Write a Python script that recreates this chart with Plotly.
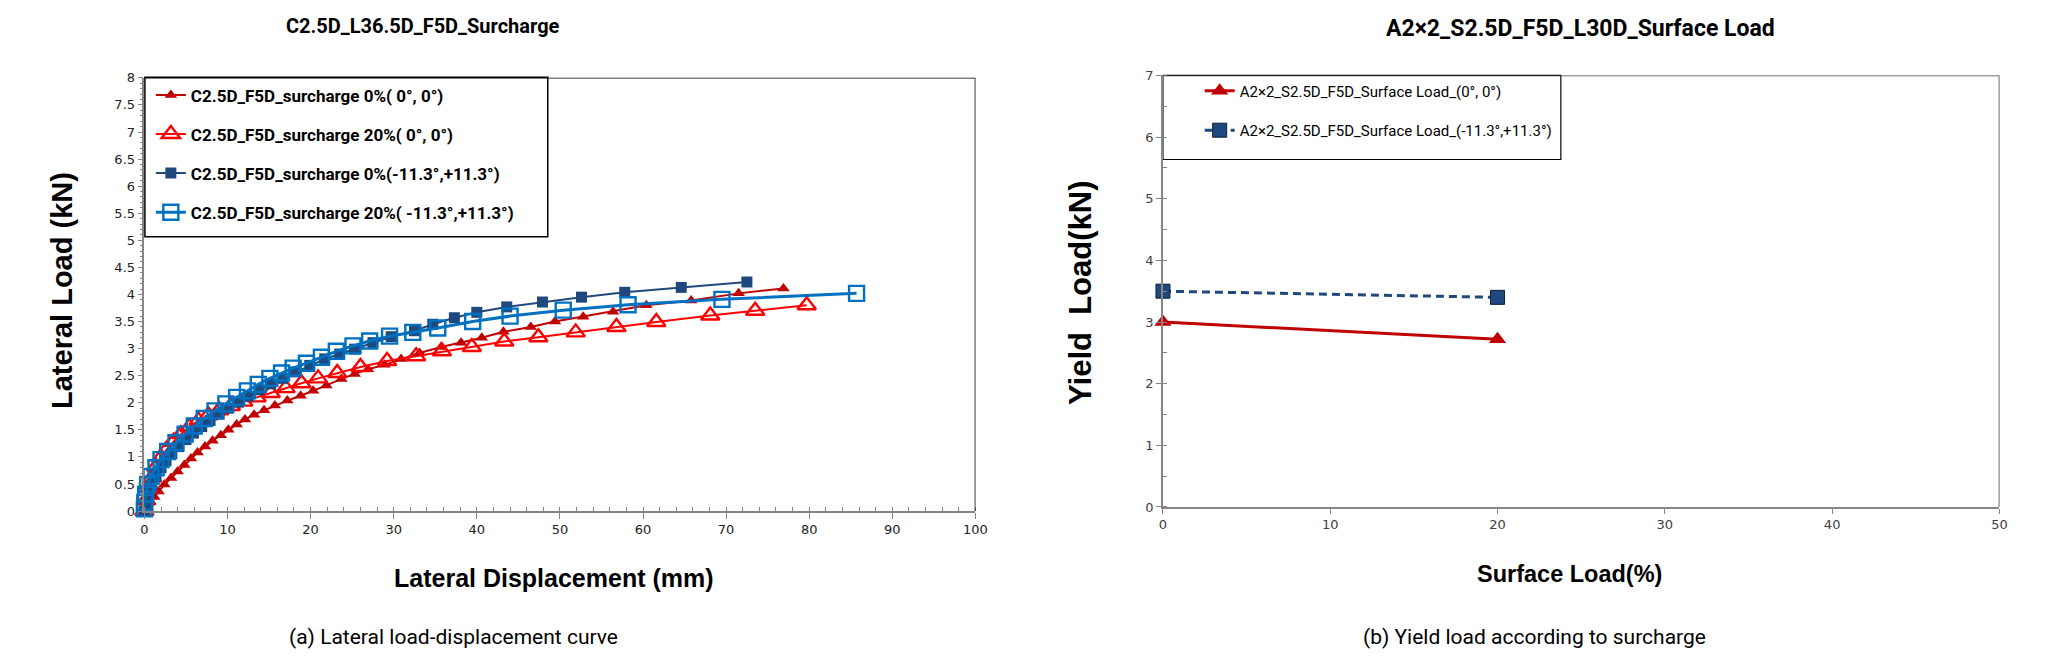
import plotly.graph_objects as go

W, H = 2067, 664

# ---------------- data: (a) lateral load-displacement ----------------
s1_name = "C2.5D_F5D_surcharge 0%( 0°, 0°)"
s1_x = [0, 0.3, 0.7, 1.2, 1.7, 2.4, 3.2, 4.0, 4.8, 5.6, 6.4, 7.3, 8.2, 9.2, 10.1, 11.1, 12.1, 13.2,
        14.4, 15.7, 17.2, 18.8, 20.3, 21.9, 23.7, 25.3, 26.9, 28.9, 30.9, 33.1, 35.7, 38.1, 40.6,
        43.2, 46.5, 49.4, 52.8, 56.4, 60.4, 65.8, 71.5, 76.9]
s1_y = [0, 0.08, 0.17, 0.26, 0.36, 0.49, 0.61, 0.73, 0.85, 0.97, 1.08, 1.19, 1.30, 1.40, 1.50, 1.60,
        1.69, 1.78, 1.86, 1.95, 2.04, 2.13, 2.22, 2.32, 2.44, 2.53, 2.62, 2.70, 2.81, 2.92, 3.03,
        3.11, 3.20, 3.31, 3.40, 3.50, 3.59, 3.68, 3.80, 3.89, 4.02, 4.11]

s2_name = "C2.5D_F5D_surcharge 20%( 0°, 0°)"
s2_x = [0, 0.2, 0.5, 0.9, 1.4, 2.0, 2.7, 3.5, 4.4, 5.4, 6.5, 7.7, 9.0, 10.4, 11.9, 13.5, 15.2, 17.0,
        18.9, 20.9, 23.2, 26.0, 29.2, 32.7, 35.8, 39.4, 43.3, 47.4, 51.9, 56.8, 61.6, 68.1, 73.5, 79.7]
s2_y = [0, 0.20, 0.42, 0.62, 0.82, 0.99, 1.14, 1.28, 1.42, 1.55, 1.67, 1.77, 1.86, 1.94, 2.02, 2.10,
        2.18, 2.27, 2.36, 2.45, 2.55, 2.66, 2.77, 2.86, 2.95, 3.03, 3.13, 3.21, 3.30, 3.40, 3.49,
        3.61, 3.70, 3.80]

s3_name = "C2.5D_F5D_surcharge 0%(-11.3°,+11.3°)"
s3_x = [0, 0.2, 0.5, 0.9, 1.4, 2.0, 2.6, 3.3, 4.1, 5.0, 5.9, 6.9, 7.9, 9.0, 10.1, 11.3, 12.5, 13.8,
        15.2, 16.6, 18.2, 19.9, 21.7, 23.5, 25.3, 27.5, 29.7, 32.5, 34.7, 37.3, 40.0, 43.6, 47.9,
        52.6, 57.8, 64.6, 72.5]
s3_y = [0, 0.16, 0.33, 0.50, 0.65, 0.80, 0.93, 1.06, 1.19, 1.32, 1.44, 1.56, 1.67, 1.79, 1.90, 2.01,
        2.12, 2.24, 2.35, 2.45, 2.57, 2.69, 2.81, 2.90, 2.99, 3.11, 3.22, 3.33, 3.45, 3.57, 3.67,
        3.77, 3.86, 3.95, 4.04, 4.13, 4.23]

s4_name = "C2.5D_F5D_surcharge 20%( -11.3°,+11.3°)"
s4_x = [0, 0.05, 0.15, 0.4, 0.8, 1.4, 2.0, 2.8, 3.8, 4.9, 6.0, 7.2, 8.5, 9.8, 11.1, 12.4, 13.7, 15.1,
        16.5, 17.9, 19.5, 21.3, 23.1, 25.1, 27.1, 29.5, 32.3, 35.3, 39.5, 44.0, 50.4, 58.2, 69.5, 85.7]
s4_y = [0.04, 0.16, 0.31, 0.49, 0.64, 0.80, 0.95, 1.10, 1.26, 1.42, 1.57, 1.71, 1.85, 1.98, 2.10,
        2.22, 2.34, 2.45, 2.55, 2.64, 2.73, 2.84, 2.95, 3.05, 3.14, 3.23, 3.30, 3.38, 3.50, 3.60,
        3.71, 3.81, 3.91, 4.02]

# ---------------- data: (b) yield load vs surface load ----------------
b_x = [0, 20]
b1_name = "A2×2_S2.5D_F5D_Surface Load_(0°, 0°)"
b1_y = [3.0, 2.72]
b2_name = "A2×2_S2.5D_F5D_Surface Load_(-11.3°,+11.3°)"
b2_y = [3.5, 3.4]

# ---------------- helpers ----------------
def px(x):
    return x / W

def py(y):
    return 1 - y / H

NARROW = "Roboto, Liberation Sans, sans-serif"
ARIAL = "Liberation Sans, Arial, sans-serif"
TICKF = "DejaVu Sans, Verdana, sans-serif"
AXG = "#868686"

fig = go.Figure()

fig.add_trace(go.Scatter(x=s1_x, y=s1_y, name=s1_name, mode="lines+markers",
                         line=dict(color="#C00000", width=2),
                         marker=dict(symbol="triangle-up", size=11, color="#C00000"),
                         cliponaxis=False, legendgroup="a1", legend="legend"))
fig.add_trace(go.Scatter(x=s2_x, y=s2_y, name=s2_name, mode="lines+markers",
                         line=dict(color="#FF0000", width=2),
                         marker=dict(symbol="triangle-up-open", size=16, color="#FF0000",
                                     line=dict(width=2.4, color="#FF0000")),
                         cliponaxis=False, legendgroup="a2", legend="legend"))
fig.add_trace(go.Scatter(x=s3_x, y=s3_y, name=s3_name, mode="lines+markers",
                         line=dict(color="#1F497D", width=2),
                         marker=dict(symbol="square", size=11, color="#1F497D"),
                         cliponaxis=False, legendgroup="a3", legend="legend"))
fig.add_trace(go.Scatter(x=s4_x, y=s4_y, name=s4_name, mode="lines+markers",
                         line=dict(color="#0070C0", width=3),
                         marker=dict(symbol="square-open", size=15, color="#0070C0",
                                     line=dict(width=2.4, color="#0070C0")),
                         cliponaxis=False, legendgroup="a4", legend="legend"))

fig.add_trace(go.Scatter(x=b_x, y=b1_y, name=b1_name, mode="lines+markers",
                         xaxis="x2", yaxis="y2",
                         line=dict(color="#C00000", width=3),
                         marker=dict(symbol="triangle-up", size=15, color="#C00000"),
                         cliponaxis=False, legendgroup="b1", legend="legend2"))
fig.add_trace(go.Scatter(x=b_x, y=b2_y, name=b2_name, mode="lines+markers",
                         xaxis="x2", yaxis="y2",
                         line=dict(color="#1F497D", width=3, dash="8px,5px"),
                         marker=dict(symbol="square", size=14, color="#1F497D",
                                     line=dict(width=1, color="#0B1E36")),
                         cliponaxis=False, legendgroup="b2", legend="legend2"))

axis_common = dict(showgrid=False, zeroline=False, showline=True, linecolor=AXG, linewidth=1.5,
                   ticks="outside", tickcolor=AXG, tickwidth=1)

fig.update_layout(
    width=W, height=H, margin=dict(l=0, r=0, t=0, b=0),
    paper_bgcolor="white", plot_bgcolor="white",
    xaxis=dict(domain=[px(141.5), px(979)], range=[0, 100], dtick=10, ticklen=6,
               tickfont=dict(family=TICKF, size=13, color="#222"),
               minor=dict(dtick=2, ticks="inside", ticklen=4, tickcolor=AXG),
               anchor="y", **axis_common),
    yaxis=dict(domain=[py(515.7), py(72.5)], range=[0, 8], dtick=0.5, ticklen=5,
               tickfont=dict(family=TICKF, size=13, color="#222"),
               minor=dict(dtick=0.1, ticks="outside", ticklen=3, tickcolor=AXG),
               anchor="x", **axis_common),
    xaxis2=dict(domain=[px(1168), px(2011)], range=[0, 50], dtick=10, ticklen=5,
                tickfont=dict(family=TICKF, size=13, color="#404040"),
                anchor="y2", **axis_common),
    yaxis2=dict(domain=[py(511.5), py(70)], range=[0, 7], dtick=1, ticklen=5,
                tickfont=dict(family=TICKF, size=13, color="#404040"),
                minor=dict(dtick=0.5, ticks="inside", ticklen=4, tickcolor=AXG),
                anchor="x2", **axis_common),
    legend=dict(x=px(148), y=py(72), xanchor="left", yanchor="top",
                bgcolor="rgba(0,0,0,0)", borderwidth=0, tracegroupgap=14,
                font=dict(family=NARROW, size=17, color="black", weight="bold"),
                itemsizing="trace"),
    legend2=dict(x=px(1205), y=py(69), xanchor="left", yanchor="top",
                 bgcolor="rgba(0,0,0,0)", borderwidth=0, tracegroupgap=17,
                 font=dict(family=NARROW, size=15, color="black")),
    showlegend=True,
)

shapes = [
    # left plot border (top, right)
    dict(type="line", xref="x", yref="y", x0=0, x1=100, y0=8, y1=8, line=dict(color="black", width=1.5)),
    dict(type="line", xref="x", yref="y", x0=100, x1=100, y0=0, y1=8, line=dict(color="black", width=1.5)),
    # right plot border
    dict(type="line", xref="x2", yref="y2", x0=0, x1=50, y0=7, y1=7, line=dict(color="#404040", width=1.5)),
    dict(type="line", xref="x2", yref="y2", x0=50, x1=50, y0=0, y1=7, line=dict(color="#404040", width=1.5)),
    # legend boxes
    dict(type="rect", xref="paper", yref="paper", x0=px(142), x1=px(548), y0=py(235), y1=py(72),
         line=dict(color="black", width=1.5), fillcolor="white", layer="below"),
    dict(type="rect", xref="paper", yref="paper", x0=px(1168), x1=px(1569), y0=py(156), y1=py(70),
         line=dict(color="black", width=1.2), fillcolor="white", layer="below"),
]
fig.update_layout(shapes=shapes)

ann = [
    dict(text="C2.5D_L36.5D_F5D_Surcharge", x=px(422), y=py(19),
         font=dict(family=NARROW, size=20, color="black", weight="bold")),
    dict(text="A2×2_S2.5D_F5D_L30D_Surface Load", x=px(1589), y=py(22),
         font=dict(family=NARROW, size=23, color="black", weight="bold")),
    dict(text="Lateral Load (kN)", x=px(59), y=py(290), textangle=-90,
         font=dict(family=ARIAL, size=29, color="black", weight="bold")),
    dict(text="Lateral Displacement (mm)", x=px(554), y=py(584),
         font=dict(family=ARIAL, size=25, color="black", weight="bold")),
    dict(text="Yield\u00a0\u00a0Load(kN)", x=px(1085), y=py(293), textangle=-90,
         font=dict(family=ARIAL, size=31, color="black", weight="bold")),
    dict(text="Surface Load(%)", x=px(1578), y=py(580),
         font=dict(family=ARIAL, size=23.5, color="black", weight="bold")),
    dict(text="(a) Lateral load-displacement curve", x=px(453), y=py(645),
         font=dict(family=NARROW, size=21, color="black")),
    dict(text="(b) Yield load according to surcharge", x=px(1542), y=py(645),
         font=dict(family=NARROW, size=21, color="black")),
]
for a in ann:
    a.update(xref="paper", yref="paper", showarrow=False, xanchor="center", yanchor="middle")
fig.update_layout(annotations=ann)

fig.write_html("out.html")
